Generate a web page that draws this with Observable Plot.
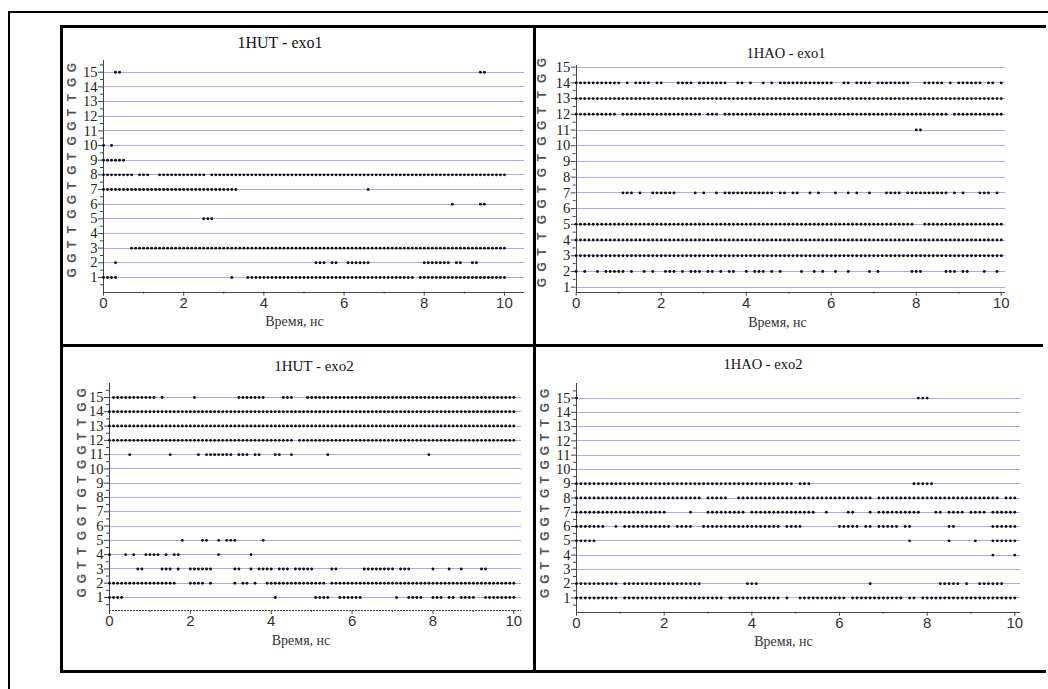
<!DOCTYPE html>
<html><head><meta charset="utf-8">
<script src="https://cdn.jsdelivr.net/npm/d3@7"></script>
<script src="https://cdn.jsdelivr.net/npm/@observablehq/plot@0.6"></script>
<style>
html,body{margin:0;padding:0;background:#fff;}
body{width:1048px;height:689px;overflow:hidden;position:relative;}
.abs{position:absolute;}
.title{position:absolute;transform:translate(-50%,-50%);font-family:"Liberation Serif","Times New Roman",serif;color:#111;white-space:nowrap;}
.xlab{position:absolute;transform:translate(-50%,-50%);font-family:"Liberation Serif","Times New Roman",serif;font-size:14px;color:#333;white-space:nowrap;}
svg{overflow:visible;}
</style></head>
<body>
<div class="abs" style="left:8px;top:11px;width:1100px;height:700px;border-top:2px solid #000;border-left:2px solid #000;"></div>
<div class="abs" style="left:60px;top:25px;width:983px;height:642px;border-top:3px solid #000;border-left:3px solid #000;border-bottom:3px solid #000;"></div>
<div class="abs" style="left:533px;top:26px;width:3px;height:644px;background:#000;"></div>
<div class="abs" style="left:61px;top:344px;width:982px;height:3px;background:#000;"></div>
<div id="root"></div>
<script>
// nucleotide sequence, positions 1..15 (bottom to top)
const positions = [1,2,3,4,5,6,7,8,9,10,11,12,13,14,15];
const bases = ["G","G","T","T","G","G","T","G","T","G","G","T","T","G","G"];
const xTicks = [0,2,4,6,8,10];
const xMinorTicks = [1,3,5,7,9];
const yMinorTicks = [0.5,1.5,2.5,3.5,4.5,5.5,6.5,7.5,8.5,9.5,10.5,11.5,12.5,13.5,14.5,15.5];
const titles = ["1HUT - exo1","1HAO - exo1","1HUT - exo2","1HAO - exo2"];
const xLabel = "Время, нс";
// contact maps: each pattern = samples every 0.1 ns from 0 to 10 ns, groups of 1 ns ("#" = contact)
const hutExo1 = [
 [15,"...##..... .......... .......... .......... .......... .......... .......... .......... .......... ....##.... ."],
 [10,"#.#....... .......... .......... .......... .......... .......... .......... .......... .......... .......... ."],
 [9, "######.... .......... .......... .......... .......... .......... .......... .......... .......... .......... ."],
 [8, "########.# ##..###### ######.### ########## ########## ########## ########## ########## ########## ########## #"],
 [7, "########## ########## ########## ####...... .......... .......... ......#... .......... .......... .......... ."],
 [6, ".......... .......... .......... .......... .......... .......... .......... .......... .......#.. ....##.... ."],
 [5, ".......... .......... .....###.. .......... .......... .......... .......... .......... .......... .......... ."],
 [3, ".......### ########## ########## ########## ########## ########## ########## ########## ########## ########## #"],
 [2, "...#...... .......... .......... .......... .......... ...###.##. .######... .......... #######.## ..##...... ."],
 [1, "####...... .......... .......... ..#...#### ########## ########## ########## ########.# ########## ########## #"]
];
const haoExo1 = [
 [14,"########## #.#.####.# #...####.# ######..## .#..#.#.## ########## #..##.#### .########. ..#####.#. ######.##. #"],
 [13,"########## ########## ########## ########## ########## ########## ########## ########## ########## ########## #"],
 [12,"########## .######### ########## .###.##### ########## ########## ########## ########## ########.# ########## #"],
 [11,".......... .......... .......... .......... .......... .......... .......... .......... ##........ .......... ."],
 [7, ".......... .###.#..## ####....#. #..#.##### #######.## .##..#.#.. .#..#.#..# ...####.## ########.# .#...###.# ."],
 [5, "########## ########## ########## ########## ########## ########## ########## ########## ..######## ########## #"],
 [4, "########## ########## ########## ########## ########## ########## ########## ########## ########## ########## #"],
 [3, "########## ########## ########## ########## ########## ########## ########## ########## ########## ########## #"],
 [2, "#.#..#.### ##.#..#.#. .###.#.### .##.#.##.. #.###.#.#. ...#..#.#. .#..#....# .#.......# ##.....### .##...#..# ."]
];
const hutExo2 = [
 [15,".######### ##.#...... .#........ ..#######. ...###...# ########## ########## ########## ########## ########## #"],
 [14,"########## ########## ########## ########## ########## ########## ########## ########## ########## ########## #"],
 [13,"########## ########## ########## ########## ########## ########## ########## ########## ########## ########## #"],
 [12,"########## ########## ########## ########## ######.### ########## ########## ########## ########## ########## #"],
 [11,".....#.... .....#.... ..#.###### #.###.##.. .##..#.... ....#..... .......... .........# .......... .......... ."],
 [5, ".......... ........#. ...##..#.# ##......#. .......... .......... .......... .......... .......... .......... ."],
 [4, "#...#.#..# ###.#.##.. .......#.. .....#.... .......... .......... .......... .......... .......... .......... ."],
 [3, ".......##. ...###.#.. ######.... .##..#.### #.###.#### #....##... ...####### #.###..... #...#..#.. ..##...... ."],
 [2, "########## #######... ####.#.... .#.##.#..# ########## ####.##### ########## ########## ########## ########## #"],
 [1, "####...... .......... .......... .......... .#........ .####..### ###....... .#..####.. ###.##.### #..####### #"]
];
const haoExo2 = [
 [15,"#......... .......... .......... .......... .......... .......... .......... ........## #......... .......... ."],
 [9, "########## ########## ########## ########## ########## .###...... .......... .......### ##........ .......... ."],
 [8, "########## ########## #########. #####..### ########## ########## ########.# ########## ########## #######.## #"],
 [7, "########## ########## #.....#... #########. ########## #####..#.. ..##...#.# #########. ..##.####. ####.##### #"],
 [6, "#######..# .######### ##.####..# ########## #######.## ##........ #####.##.# ####.##... .....##... .....##### #"],
 [5, "#####..... .......... .......... .......... .......... .......... .......... ......#... .....#.... .#...##### #"],
 [4, ".......... .......... .......... .......... .......... .......... .......... .......... .......... .....#.... #"],
 [2, "########## .######### #########. .........# ##........ .......... .......#.. .......... ...#####.# ..######.. ."],
 [1, "########## .######### ########## ####.##### #######.#. .######### ##.####### #####.##.# ########## ########## #"]
];

function parseRows(rows){
  const out = [];
  for (const [pos, pat] of rows) {
    const s = pat.replace(/ /g, "");
    for (let i = 0; i < s.length; i++) if (s[i] === "#") out.push({t: i / 10, pos});
  }
  return out;
}
const letters = positions.map((p, i) => ({pos: p, base: bases[i]}));
const serif = "Liberation Serif, Times New Roman, serif";
const sans = "Liberation Sans, Arial, sans-serif";

const panels = [
  {rows: hutExo1, title: titles[0], L: 61, T: 26, W: 473, H: 319, mL: 42, mR: 10, mT: 34, mB: 53.4, xMax: 10.5, y0: 0, y1: 15.8, ldx: -31,
   tx: 280, ty: 43, tfs: 16, lx: 294.5, ly: 322, dotted: false},
  {rows: haoExo1, title: titles[1], L: 534, T: 26, W: 509, H: 319, mL: 41.7, mR: 38, mT: 39.1, mB: 53.3, xMax: 10.1, y0: 0.68, y1: 15.1, ldx: -34,
   tx: 786, ty: 53, tfs: 14.5, lx: 777.5, ly: 323, dotted: false},
  {rows: hutExo2, title: titles[2], L: 61, T: 345, W: 473, H: 324, mL: 48, mR: 12.6, mT: 37.7, mB: 59, xMax: 10.2, y0: 0.09, y1: 16.0, ldx: -27,
   tx: 314, ty: 366, tfs: 15, lx: 301, ly: 641, dotted: true},
  {rows: haoExo2, title: titles[3], L: 534, T: 345, W: 509, H: 324, mL: 42, mR: 23, mT: 38.3, mB: 57.3, xMax: 10.13, y0: 0, y1: 16, ldx: -31,
   tx: 763, ty: 364, tfs: 14.5, lx: 783.5, ly: 642, dotted: false}
];

const root = document.getElementById("root");
for (const p of panels) {
  const data = parseRows(p.rows);
  const chart = Plot.plot({
    width: p.W, height: p.H,
    marginLeft: p.mL, marginRight: p.mR, marginTop: p.mT, marginBottom: p.mB,
    x: {domain: [0, p.xMax]},
    y: {domain: [p.y0, p.y1]},
    style: {background: "transparent", overflow: "visible"},
    marks: [
      Plot.ruleY(positions, {x1: 0, x2: p.xMax, stroke: "#a9a9f2", strokeWidth: 1, shapeRendering: "crispEdges"}),
      Plot.ruleX([0], {y1: p.y0, y2: p.y1, stroke: "#444", strokeWidth: 1, shapeRendering: "crispEdges"}),
      Plot.ruleY([p.y0], {x1: 0, x2: p.xMax, stroke: "#444", strokeWidth: 1, shapeRendering: "crispEdges", strokeDasharray: p.dotted ? "1.5,1.5" : null}),
      Plot.axisY({ticks: positions, tickSize: 5, tickPadding: 1, fontSize: 14.5, fontFamily: serif, color: "#222", label: null, stroke: "#444"}),
      Plot.axisY({ticks: yMinorTicks.filter(v => v > p.y0 && v < p.y1), tickSize: 3, tickFormat: () => "", label: null, stroke: "#444"}),
      Plot.axisX({ticks: xTicks, tickSize: 4, tickPadding: 1, fontSize: 15, fontFamily: sans, color: "#333", label: null, stroke: "#444"}),
      Plot.axisX({ticks: xMinorTicks, tickSize: 2, tickFormat: () => "", label: null, stroke: "#444"}),
      Plot.text(letters, {y: "pos", text: "base", frameAnchor: "left", dx: p.ldx, rotate: -90, fontSize: 12, fontWeight: "bold", fontFamily: sans, fill: "#555"}),
      Plot.dot(data, {x: "t", y: "pos", r: 1.45, fill: "#111", stroke: null})
    ]
  });
  chart.style.position = "absolute";
  chart.style.left = p.L + "px";
  chart.style.top = p.T + "px";
  root.appendChild(chart);
  const t = document.createElement("div");
  t.className = "title";
  t.style.left = p.tx + "px"; t.style.top = p.ty + "px"; t.style.fontSize = p.tfs + "px";
  t.textContent = p.title;
  root.appendChild(t);
  const l = document.createElement("div");
  l.className = "xlab";
  l.style.left = p.lx + "px"; l.style.top = p.ly + "px";
  l.textContent = xLabel;
  root.appendChild(l);
}
</script>
</body></html>
